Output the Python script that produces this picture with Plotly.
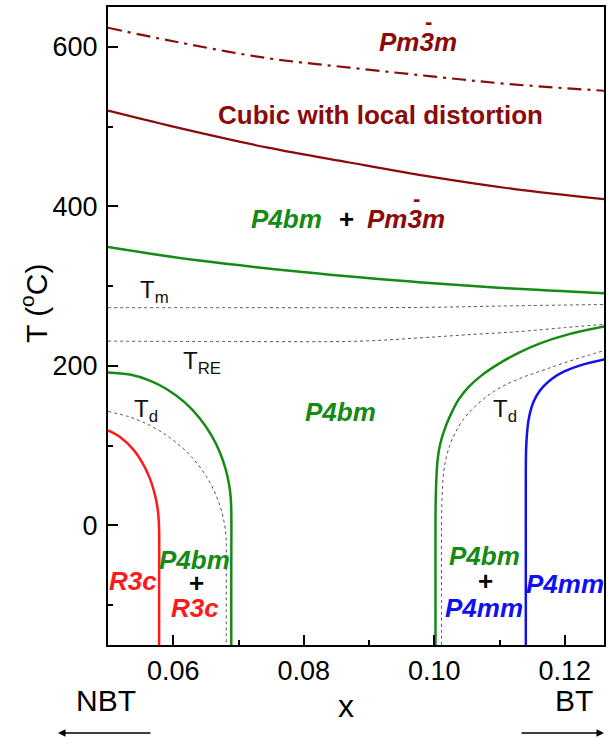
import plotly.graph_objects as go

# ---------------- data ----------------
# upper cubic boundary (dash-dot)
pm3m_x = [0.050, 0.060, 0.0743, 0.087, 0.0996, 0.112, 0.126]
pm3m_T = [624, 607, 586, 574, 563, 553, 545]

# cubic with local distortion lower boundary
cubic_x = [0.050, 0.060, 0.0743, 0.087, 0.0996, 0.112, 0.126]
cubic_T = [520, 500, 474, 455, 437, 422, 409]

# P4bm + Pm-3m lower boundary (green)
p4bm_top_x = [0.050, 0.064, 0.0885, 0.0976, 0.1098, 0.126]
p4bm_top_T = [349, 332, 311, 305, 298, 291]

# Tm (dotted)
tm_x = [0.050, 0.070, 0.090, 0.100, 0.110, 0.126]
tm_T = [273, 273, 273, 273.5, 275, 277]

# TRE (dotted)
tre_x = [0.050, 0.070, 0.0885, 0.0976, 0.105, 0.113, 0.120, 0.126]
tre_T = [231, 230.5, 231, 235, 239, 243, 248, 252]

# green left boundary (P4bm / P4bm+R3c)
gl_x = [0.05000, 0.05336, 0.05641, 0.05896, 0.06176, 0.06405, 0.06588,
        0.06710, 0.06802, 0.06855, 0.06881, 0.06889, 0.06889, 0.06889]
gl_T = [191.8, 189.1, 181.6, 171.0, 154.2, 134.4, 112.5,
        92.3, 70.7, 51.4, 34.2, 18.8, -60, -150]

# Td left (dotted)
tdl_x = [0.05000, 0.05336, 0.05641, 0.05916, 0.06150, 0.06344, 0.06507,
         0.06618, 0.06684, 0.06740, 0.06782, 0.06805, 0.06812, 0.06812, 0.06812]
tdl_T = [142.9, 135.8, 125.4, 111.8, 96.6, 79.7, 61.4,
         44.6, 32.0, 17.9, 3.0, -10.9, -25.1, -90, -150]

# red boundary (R3c)
red_x = [0.05000, 0.05183, 0.05386, 0.05519, 0.05641, 0.05702, 0.05744,
         0.05771, 0.05783, 0.05783, 0.05783]
red_T = [119.1, 110.8, 95.3, 79.6, 58.9, 43.5, 29.0,
         13.3, -6.3, -80, -150]

# green right boundary (P4bm / P4bm+P4mm)
gr_x = [0.10018, 0.10018, 0.10018, 0.10023, 0.10032, 0.10047, 0.10076, 0.10122,
        0.10183, 0.10267, 0.10374, 0.10527, 0.10725, 0.10985, 0.11290, 0.11641,
        0.12053, 0.12614]
gr_T = [-150, -70, 6.3, 37.6, 58.9, 79.0, 96.6, 111.6,
        126.0, 141.7, 158.0, 173.7, 188.1, 202.5, 216.3, 228.8,
        239.5, 249.5]

# Td right (dotted)
tdr_x = [0.10110, 0.10110, 0.10110, 0.10115, 0.10125, 0.10145, 0.10180, 0.10237,
         0.10321, 0.10435, 0.10588, 0.10786, 0.11030, 0.11336, 0.11702, 0.12130,
         0.12614]
tdr_T = [-150, -80, -6.3, 25.1, 46.4, 67.7, 84.0, 100.3,
         116.0, 131.7, 146.1, 160.5, 173.7, 185.0, 195.6, 207.5,
         219.4]

# blue boundary (P4mm)
blue_x = [0.11402, 0.11402, 0.11402, 0.11406, 0.11418, 0.11443, 0.11489,
          0.11565, 0.11672, 0.11809, 0.11992, 0.12237, 0.12614]
blue_T = [-150, -40, 69.0, 94.0, 112.9, 131.7, 148.0,
          162.4, 174.3, 184.3, 193.1, 200.6, 208.2]

x_ticks = [0.06, 0.08, 0.10, 0.12]
x_tick_labels = ["0.06", "0.08", "0.10", "0.12"]
y_ticks = [0, 200, 400, 600]
y_tick_labels = ["0", "200", "400", "600"]

# ---------------- styles ----------------
DARKRED = "#8B0A0A"
GREEN = "#158A15"
RED = "#FF1A1A"
BLUE = "#1010F0"
GREY = "#555555"
FONT = "Liberation Sans, Arial, sans-serif"

fig = go.Figure()


def add_line(x, y, color, width, dash="solid", shape="spline", smooth=1.0):
    fig.add_trace(go.Scatter(x=x, y=y, mode="lines",
                             line=dict(color=color, width=width, dash=dash,
                                       shape=shape, smoothing=smooth),
                             showlegend=False, hoverinfo="skip"))


add_line(pm3m_x, pm3m_T, DARKRED, 2.2, dash="14px,6px,3px,6px")
add_line(cubic_x, cubic_T, DARKRED, 2.2)
add_line(p4bm_top_x, p4bm_top_T, GREEN, 2.5)
add_line(tm_x, tm_T, GREY, 1, dash="3px,3px")
add_line(tre_x, tre_T, GREY, 1, dash="3px,3px")
add_line(gl_x, gl_T, GREEN, 2.5)
add_line(tdl_x, tdl_T, GREY, 1, dash="3px,3px")
add_line(red_x, red_T, RED, 2.5)
add_line(gr_x, gr_T, GREEN, 2.5)
add_line(tdr_x, tdr_T, GREY, 1, dash="3px,3px")
add_line(blue_x, blue_T, BLUE, 2.5)


def label(x, y, text, color, size=26, bold=True, italic=True):
    t = text
    if italic:
        t = "<i>" + t + "</i>"
    if bold:
        t = "<b>" + t + "</b>"
    fig.add_annotation(x=x, y=y, xref="x", yref="y", text=t, showarrow=False,
                       font=dict(family=FONT, size=size, color=color),
                       xanchor="center", yanchor="middle")


def bar_over_3(x, y):
    # the overbar of the "3" in Pm-3m
    fig.add_annotation(x=x, y=y, xref="x", yref="y", text="<b>-</b>",
                       showarrow=False, xshift=10, yshift=21,
                       font=dict(family=FONT, size=22, color=DARKRED),
                       xanchor="center", yanchor="middle")


label(0.0975, 606, "Pm3m", DARKRED)
bar_over_3(0.0975, 606)
label(0.0917, 514, "Cubic with local distortion", DARKRED, italic=False)
label(0.0773, 384, "P4bm", GREEN)
label(0.0866, 384, "+", "black", italic=False)
label(0.0957, 384, "Pm3m", DARKRED)
bar_over_3(0.0957, 384)
label(0.0857, 142, "P4bm", GREEN)
label(0.0538, -70, "R3c", RED)
label(0.0633, -43, "P4bm", GREEN)
label(0.0636, -72, "+", "black", italic=False)
label(0.0634, -103, "R3c", RED)
label(0.1077, -38, "P4bm", GREEN)
label(0.1079, -70, "+", "black", italic=False)
label(0.1076, -103, "P4mm", BLUE)
label(0.1201, -73, "P4mm", BLUE)

label(0.0572, 293, "T<sub>m</sub>", "#111111", size=24, bold=False, italic=False)
label(0.0644, 204, "T<sub>RE</sub>", "#111111", size=24, bold=False, italic=False)
label(0.0558, 144, "T<sub>d</sub>", "#111111", size=24, bold=False, italic=False)
label(0.1109, 144, "T<sub>d</sub>", "#111111", size=24, bold=False, italic=False)

# axis title (y) and bottom labels
fig.add_annotation(xref="paper", yref="paper", x=0, y=0.5345, xshift=-74,
                   text="T (<sup>o</sup>C)", textangle=-90, showarrow=False,
                   font=dict(family=FONT, size=30, color="black"),
                   xanchor="center", yanchor="middle")
fig.add_annotation(xref="paper", yref="paper", x=0.4803, y=0, yshift=-61,
                   text="x", showarrow=False,
                   font=dict(family=FONT, size=32, color="black"),
                   xanchor="center", yanchor="middle")
fig.add_annotation(xref="paper", yref="paper", x=0, y=0, xshift=-2, yshift=-55,
                   text="NBT", showarrow=False,
                   font=dict(family=FONT, size=30, color="black"),
                   xanchor="center", yanchor="middle")
fig.add_annotation(xref="paper", yref="paper", x=1, y=0, xshift=-30, yshift=-55,
                   text="BT", showarrow=False,
                   font=dict(family=FONT, size=30, color="black"),
                   xanchor="center", yanchor="middle")
# arrows
fig.add_annotation(xref="paper", yref="paper", x=0, y=0, xshift=-50, yshift=-88,
                   ax=94, ay=0, text="", showarrow=True, arrowhead=2,
                   arrowsize=1, arrowwidth=1.5, arrowcolor="black")
fig.add_annotation(xref="paper", yref="paper", x=1, y=0, xshift=0, yshift=-88,
                   ax=-84, ay=0, text="", showarrow=True, arrowhead=2,
                   arrowsize=1, arrowwidth=1.5, arrowcolor="black")

fig.update_layout(
    width=608, height=740,
    margin=dict(l=108, r=2, t=7, b=95),
    paper_bgcolor="white", plot_bgcolor="white",
    font=dict(family=FONT, color="black"),
    showlegend=False,
)
fig.update_xaxes(range=[0.05, 0.126], tickvals=x_ticks, ticktext=x_tick_labels,
                 ticks="inside", ticklen=10, tickwidth=1.5, tickcolor="black",
                 minor=dict(dtick=0.01, tick0=0.05, ticks="inside", ticklen=5,
                            tickwidth=1.5, tickcolor="black"),
                 showline=True, linecolor="black", linewidth=2, mirror=True,
                 showgrid=False, zeroline=False,
                 tickfont=dict(family=FONT, size=27, color="black"),
                 ticklabelstandoff=1)
fig.update_yaxes(range=[-150, 650], tickvals=y_ticks, ticktext=y_tick_labels,
                 ticks="inside", ticklen=10, tickwidth=1.5, tickcolor="black",
                 minor=dict(dtick=100, tick0=0, ticks="inside", ticklen=5,
                            tickwidth=1.5, tickcolor="black"),
                 showline=True, linecolor="black", linewidth=2, mirror=True,
                 showgrid=False, zeroline=False,
                 tickfont=dict(family=FONT, size=27, color="black"),
                 ticklabelstandoff=3)

fig.write_html("out.html")
